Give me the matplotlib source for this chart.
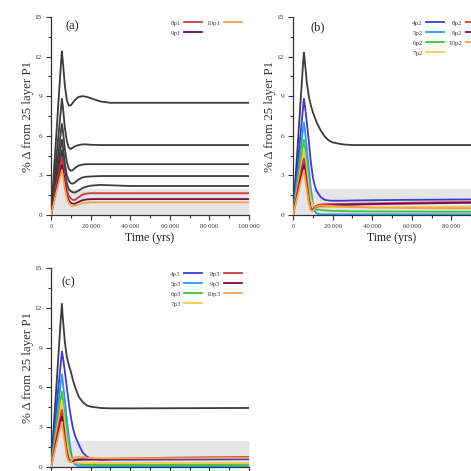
import numpy as np
import matplotlib
matplotlib.use("Agg")
import matplotlib.pyplot as plt
from matplotlib.ticker import MultipleLocator, FuncFormatter

plt.rcParams['font.family'] = ['Liberation Serif', 'DejaVu Serif']

# ---------------- data ----------------
t = [0, 1000, 2000, 3000, 4000, 5000, 5500, 6000, 7000, 8000, 9000, 10000, 11000, 12000,
     14000, 16000, 18000, 20000, 25000, 30000, 40000, 60000, 80000, 100000]

# panel (a): grey curves (unlabelled) and coloured 8p1..10p1
a_grey = [
    [0, 2.2, 4.5, 6.8, 9.1, 11.4, 12.4, 11.6, 9.8, 8.7, 8.3, 8.3, 8.5, 8.7, 8.95, 9.0, 8.95, 8.85, 8.6, 8.5, 8.5, 8.5, 8.5, 8.5],
    [0, 1.6, 3.2, 4.8, 6.4, 8.0, 8.8, 8.2, 6.6, 5.6, 5.1, 5.0, 5.1, 5.2, 5.3, 5.35, 5.35, 5.32, 5.3, 5.3, 5.3, 5.3, 5.3, 5.3],
    [0, 1.25, 2.5, 3.75, 5.0, 6.3, 6.9, 6.4, 5.0, 4.0, 3.5, 3.35, 3.4, 3.55, 3.75, 3.82, 3.85, 3.85, 3.85, 3.85, 3.85, 3.85, 3.85, 3.85],
    [0, 1.05, 2.1, 3.1, 4.15, 5.2, 5.7, 5.2, 3.9, 3.0, 2.6, 2.4, 2.38, 2.45, 2.7, 2.85, 2.9, 2.92, 2.95, 2.95, 2.95, 2.95, 2.95, 2.95],
    [0, 0.9, 1.8, 2.7, 3.6, 4.5, 4.9, 4.4, 3.2, 2.4, 1.95, 1.8, 1.72, 1.7, 1.85, 2.05, 2.15, 2.22, 2.28, 2.25, 2.2, 2.2, 2.2, 2.2],
]
a_labels = ['8p1', '9p1', '10p1']
a_vals = [
    [0, 0.8, 1.6, 2.4, 3.2, 3.95, 4.3, 3.9, 2.7, 1.9, 1.45, 1.25, 1.15, 1.13, 1.35, 1.55, 1.62, 1.65, 1.65, 1.65, 1.65, 1.65, 1.65, 1.65],
    [0, 0.7, 1.4, 2.1, 2.8, 3.5, 3.8, 3.4, 2.3, 1.5, 1.1, 0.92, 0.86, 0.85, 1.0, 1.12, 1.18, 1.2, 1.21, 1.21, 1.21, 1.21, 1.21, 1.21],
    [0, 0.62, 1.25, 1.87, 2.5, 3.1, 3.4, 3.0, 2.0, 1.3, 0.9, 0.75, 0.7, 0.7, 0.8, 0.9, 0.94, 0.96, 0.96, 0.96, 0.96, 0.96, 0.96, 0.96],
]

# panel (b)
b_grey = [0, 2.2, 4.4, 6.7, 9.0, 11.3, 12.3, 11.6, 10.0, 9.0, 8.3, 7.8, 7.4, 7.0, 6.4, 5.95, 5.65, 5.5, 5.35, 5.3, 5.3, 5.3, 5.3, 5.3]
b_labels = ['4p2', '5p2', '6p2', '7p2', '8p2', '9p2', '10p2']
b_vals = [
    [0, 1.6, 3.2, 4.8, 6.4, 8.0, 8.8, 8.3, 7.0, 5.6, 4.0, 2.9, 2.2, 1.8, 1.35, 1.15, 1.1, 1.08, 1.08, 1.1, 1.12, 1.15, 1.17, 1.19],
    [0, 1.27, 2.55, 3.8, 5.1, 6.4, 7.0, 6.5, 5.0, 3.5, 2.0, 0.9, 0.3, 0.1, 0.05, 0.05, 0.05, 0.05, 0.05, 0.05, 0.05, 0.05, 0.05, 0.05],
    [0, 1.05, 2.1, 3.1, 4.15, 5.2, 5.7, 5.2, 3.9, 2.6, 1.5, 0.8, 0.5, 0.42, 0.38, 0.35, 0.33, 0.32, 0.3, 0.28, 0.27, 0.26, 0.25, 0.25],
    [0, 0.9, 1.8, 2.7, 3.6, 4.5, 5.0, 4.5, 3.3, 2.1, 1.2, 0.75, 0.6, 0.58, 0.58, 0.6, 0.6, 0.6, 0.6, 0.6, 0.6, 0.6, 0.6, 0.6],
    [0, 0.8, 1.6, 2.4, 3.2, 3.95, 4.3, 3.8, 2.5, 1.3, 0.5, 0.4, 0.6, 0.72, 0.8, 0.82, 0.83, 0.83, 0.84, 0.85, 0.88, 0.93, 0.97, 1.0],
    [0, 0.7, 1.4, 2.1, 2.8, 3.5, 3.8, 3.3, 2.2, 1.1, 0.45, 0.35, 0.5, 0.62, 0.7, 0.72, 0.73, 0.74, 0.76, 0.78, 0.82, 0.87, 0.91, 0.94],
    [0, 0.62, 1.25, 1.87, 2.5, 3.1, 3.4, 2.9, 1.9, 0.9, 0.35, 0.3, 0.5, 0.65, 0.72, 0.72, 0.7, 0.68, 0.64, 0.6, 0.56, 0.52, 0.5, 0.5],
]

# panel (c)
c_grey = [0, 2.2, 4.4, 6.7, 9.0, 11.3, 12.3, 11.2, 9.4, 8.3, 7.7, 7.2, 6.6, 6.1, 5.3, 4.9, 4.65, 4.55, 4.45, 4.42, 4.42, 4.43, 4.44, 4.45]
c_labels = ['4p3', '5p3', '6p3', '7p3', '8p3', '9p3', '10p3']
c_vals = [
    [0, 1.6, 3.2, 4.8, 6.4, 7.9, 8.7, 8.3, 7.2, 6.0, 4.8, 3.8, 3.0, 2.4, 1.7, 1.1, 0.8, 0.65, 0.55, 0.55, 0.55, 0.56, 0.57, 0.58],
    [0, 1.27, 2.55, 3.8, 5.1, 6.4, 7.0, 6.4, 5.0, 3.6, 2.3, 1.2, 0.5, 0.2, 0.08, 0.06, 0.05, 0.05, 0.05, 0.05, 0.05, 0.05, 0.05, 0.05],
    [0, 1.05, 2.1, 3.1, 4.15, 5.2, 5.7, 5.1, 3.9, 2.7, 1.6, 0.9, 0.5, 0.35, 0.25, 0.2, 0.18, 0.17, 0.15, 0.15, 0.15, 0.15, 0.15, 0.15],
    [0, 0.9, 1.8, 2.7, 3.6, 4.5, 5.0, 4.4, 3.2, 2.0, 1.1, 0.6, 0.4, 0.35, 0.3, 0.3, 0.3, 0.3, 0.3, 0.3, 0.3, 0.3, 0.3, 0.3],
    [0, 0.8, 1.6, 2.4, 3.2, 3.95, 4.3, 3.7, 2.4, 1.2, 0.6, 0.45, 0.5, 0.55, 0.6, 0.6, 0.6, 0.6, 0.6, 0.62, 0.65, 0.7, 0.73, 0.75],
    [0, 0.7, 1.4, 2.1, 2.8, 3.5, 3.8, 3.2, 2.1, 1.0, 0.5, 0.4, 0.45, 0.5, 0.53, 0.55, 0.55, 0.55, 0.56, 0.58, 0.6, 0.63, 0.66, 0.68],
    [0, 0.62, 1.25, 1.87, 2.5, 3.1, 3.4, 2.8, 1.8, 0.8, 0.4, 0.4, 0.6, 0.72, 0.78, 0.75, 0.7, 0.68, 0.66, 0.65, 0.65, 0.66, 0.67, 0.68],
]

band_top = 2.0
x_ticks = [0, 20000, 40000, 60000, 80000, 100000]
y_ticks = [0, 3, 6, 9, 12, 15]

# ---------------- style ----------------
col7 = ['#3a3ad6', '#2a96f0', '#3cc43c', '#f2c94a', '#c83a3a', '#7a0a4e', '#f5a24e']
col3 = col7[4:]
grey = '#3c3c3c'
axc = '#333333'

W = 471.0
fig = plt.figure(figsize=(4.71, 4.71), dpi=100)
ax_a = fig.add_axes([51 / W, (471 - 215) / W, 198 / W, 198 / W])
ax_b = fig.add_axes([293 / W, (471 - 215) / W, 198 / W, 198 / W])
ax_c = fig.add_axes([51 / W, (471 - 467) / W, 198 / W, 199 / W])

tarr = np.array(t, dtype=float)


def make_fmt(maxshow):
    def fmt_x(v, pos):
        v = int(round(v))
        if v > maxshow:
            return ''
        if v == 0:
            return '0'
        return f'{v:,}'.replace(',', '\u2009')
    return fmt_x


def style(ax, letter, lx, ly, xlabels=True, maxshow=100000):
    ax.set_xlim(0, 100000)
    ax.set_ylim(0, 15)
    for s in ['top', 'right']:
        ax.spines[s].set_visible(False)
    for s in ['left', 'bottom']:
        ax.spines[s].set_color(axc)
        ax.spines[s].set_linewidth(0.9)
    ax.set_xticks(x_ticks)
    ax.set_yticks(y_ticks)
    ax.xaxis.set_minor_locator(MultipleLocator(10000))
    ax.yaxis.set_minor_locator(MultipleLocator(1.5))
    ax.xaxis.set_major_formatter(FuncFormatter(make_fmt(maxshow)))
    ax.tick_params(which='major', direction='out', length=3.5, width=0.8, color=axc, pad=3)
    ax.tick_params(which='minor', direction='out', length=2, width=0.8, color=axc)
    ax.tick_params(axis='x', labelsize=4.8, labelcolor='#333333', labelbottom=xlabels)
    ax.tick_params(axis='y', labelsize=5.2, labelcolor='#333333')
    if xlabels:
        ax.set_xlabel('Time (yrs)', fontsize=8.5, labelpad=2, color='#222222')
    ax.set_ylabel('% \u0394 from 25 layer P1', fontsize=9.3, labelpad=0.5, color='#333333')
    ax.text(lx, ly, letter, transform=ax.transAxes, fontsize=9, ha='left', va='center', color='#222222')


def fill(ax, lowest):
    ax.fill_between(tarr, 0, np.maximum(band_top, np.array(lowest)), color='#e5e5e5', lw=0, zorder=0)


def legend(ax, ncol=2):
    lg = ax.legend(loc='upper right', bbox_to_anchor=(0.965, 0.985), ncol=ncol, frameon=False,
                   fontsize=5, markerfirst=False, handlelength=2.6, handletextpad=0.5,
                   columnspacing=0.6, labelspacing=0.6, borderaxespad=0, borderpad=0)
    for txt in lg.get_texts():
        txt.set_color('#444444')
    return lg


# (a)
fill(ax_a, a_vals[-1])
for v in a_grey:
    ax_a.plot(tarr, v, color=grey, lw=1.3, zorder=2)
for v, lab, c in zip(a_vals, a_labels, col3):
    ax_a.plot(tarr, v, color=c, lw=1.3, label=lab, zorder=3)
style(ax_a, '(a)', 0.075, 0.955)
legend(ax_a)

# (b)
fill(ax_b, b_vals[-1])
ax_b.plot(tarr, b_grey, color=grey, lw=1.3, zorder=2)
for v, lab, c in zip(b_vals, b_labels, col7):
    ax_b.plot(tarr, v, color=c, lw=1.3, label=lab, zorder=3)
style(ax_b, '(b)', 0.09, 0.95, maxshow=80000)
legend(ax_b)

# (c)
fill(ax_c, c_vals[-1])
ax_c.plot(tarr, c_grey, color=grey, lw=1.3, zorder=2)
for v, lab, c in zip(c_vals, c_labels, col7):
    ax_c.plot(tarr, v, color=c, lw=1.3, label=lab, zorder=3)
style(ax_c, '(c)', 0.055, 0.93, xlabels=False)
legend(ax_c)

fig.savefig('out.png', dpi=100)
